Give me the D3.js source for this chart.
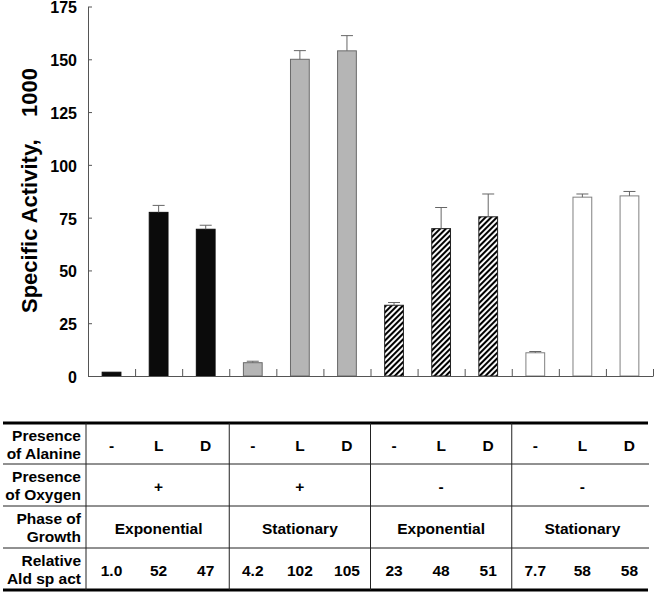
<!DOCTYPE html>
<html>
<head>
<meta charset="utf-8">
<script src="https://cdn.jsdelivr.net/npm/d3@7"></script>
<style>
  html, body { margin: 0; padding: 0; background: #fff; }
  svg { display: block; font-family: "Liberation Sans", Arial, Helvetica, sans-serif; font-weight: bold; }
</style>
</head>
<body>
<svg id="chart" width="656" height="594"></svg>
<script>
// ---- data ----
const categories = ["1","2","3","4","5","6","7","8","9","10","11","12"];
const groupOfBar = [0,0,0,1,1,1,2,2,2,3,3,3];
const activity = [1.8, 77.5, 69.5, 6.3, 150, 154, 33.5, 69.8, 75.4, 11, 84.7, 85.3];
const errorUp = [0, 3.3, 1.9, 0.7, 4.1, 7.2, 1.3, 10, 10.8, 0.6, 1.5, 2.1];
const yTicks = [0, 25, 50, 75, 100, 125, 150, 175];

const alanine = ["-","L","D","-","L","D","-","L","D","-","L","D"];
const oxygen = ["+","+","-","-"];
const phase = ["Exponential","Stationary","Exponential","Stationary"];
const relAct = ["1.0","52","47","4.2","102","105","23","48","51","7.7","58","58"];
const rowLabels = [["Presence","of Alanine"],["Presence","of Oxygen"],["Phase of","Growth"],["Relative","Ald sp act"]];

// ---- layout ----
const svg = d3.select("#chart");
const axisColor = "#555";
const x0 = 88, x1 = 653, yBase = 376, yTop = 6.5;

const x = d3.scaleBand().domain(categories).range([x0, x1]).paddingInner(0.58).paddingOuter(0.29);
const xb = d3.scaleLinear().domain([0, categories.length]).range([x0, x1]);
const y = d3.scaleLinear().domain([0, 175]).range([yBase, yTop]);

// hatch pattern
const defs = svg.append("defs");
const pat = defs.append("pattern").attr("id", "hatch").attr("patternUnits", "userSpaceOnUse")
  .attr("width", 4).attr("height", 4).attr("patternTransform", "rotate(45)");
pat.append("rect").attr("width", 4).attr("height", 4).attr("fill", "#fff");
pat.append("line").attr("x1", 1).attr("y1", 0).attr("x2", 1).attr("y2", 4)
  .attr("stroke", "#000").attr("stroke-width", 2.1);

const groupStyles = [
  { fill: "#0b0b0b", stroke: "#0b0b0b" },
  { fill: "#b5b5b5", stroke: "#6a6a6a" },
  { fill: "url(#hatch)", stroke: "#222" },
  { fill: "#ffffff", stroke: "#808080" }
];

// bars
svg.append("g").selectAll("rect").data(categories).join("rect")
  .attr("x", d => x(d) + 0.5)
  .attr("y", (d, i) => y(activity[i]))
  .attr("width", x.bandwidth() - 1)
  .attr("height", (d, i) => yBase - y(activity[i]))
  .attr("fill", (d, i) => groupStyles[groupOfBar[i]].fill)
  .attr("stroke", (d, i) => groupStyles[groupOfBar[i]].stroke)
  .attr("stroke-width", 1);

// error bars
const eb = svg.append("g").attr("stroke", "#666").attr("stroke-width", 1).attr("fill", "none");
categories.forEach((c, i) => {
  if (!errorUp[i]) return;
  const cx = x(c) + x.bandwidth() / 2;
  const yt = y(activity[i] + errorUp[i]);
  eb.append("line").attr("x1", cx).attr("x2", cx).attr("y1", y(activity[i])).attr("y2", yt);
  eb.append("line").attr("x1", cx - 6).attr("x2", cx + 6).attr("y1", yt).attr("y2", yt);
});

// y axis
const yAxis = svg.append("g").attr("transform", `translate(${x0},0)`)
  .call(d3.axisLeft(y).tickValues(yTicks).tickSize(-4).tickSizeOuter(0).tickPadding(11));
yAxis.select(".domain").attr("stroke", axisColor);
yAxis.selectAll(".tick line").attr("stroke", axisColor);
yAxis.selectAll(".tick text").attr("fill", "#000").attr("dy", "0.4em").style("font-size", "16px")
  .style("font-family", "'Liberation Sans', Arial, sans-serif").style("font-weight", "bold");

// x axis (boundary ticks, no labels)
const xAxis = svg.append("g").attr("transform", `translate(0,${yBase})`)
  .call(d3.axisBottom(xb).tickValues(d3.range(1, categories.length + 1)).tickSize(-7).tickSizeOuter(0).tickFormat(""));
xAxis.select(".domain").attr("stroke", axisColor);
xAxis.selectAll(".tick line").attr("stroke", axisColor);

// y title
svg.append("text").attr("transform", "translate(37,313) rotate(-90)")
  .attr("text-anchor", "start").style("font-size", "22px").attr("fill", "#000")
  .text("Specific Activity,");
svg.append("text").attr("transform", "translate(37,68) rotate(-90)")
  .attr("text-anchor", "end").style("font-size", "22px").attr("fill", "#000")
  .text("1000");

// ---- table ----
const tLeft = 3, tRight = 648, labelDiv = 86;
const rowTops = [423, 464, 506, 548, 590];
const tbl = svg.append("g");
// thick top/bottom
[rowTops[0], rowTops[4]].forEach(ry => {
  tbl.append("line").attr("x1", tLeft).attr("x2", tRight).attr("y1", ry).attr("y2", ry)
    .attr("stroke", "#000").attr("stroke-width", 3);
});
// thin row lines
rowTops.slice(1, 4).forEach(ry => {
  tbl.append("line").attr("x1", tLeft).attr("x2", tRight + 1).attr("y1", ry).attr("y2", ry)
    .attr("stroke", "#222").attr("stroke-width", 1);
});
// vertical dividers
[labelDiv, xb(3), xb(6), xb(9)].forEach(vx => {
  tbl.append("line").attr("x1", vx).attr("x2", vx).attr("y1", rowTops[0]).attr("y2", rowTops[4])
    .attr("stroke", "#222").attr("stroke-width", 1);
});
// row labels
const fs = "15.5px";
rowLabels.forEach((lines, r) => {
  lines.forEach((t, k) => {
    tbl.append("text").attr("x", 81).attr("y", rowTops[r] + 17.5 + k * 18)
      .attr("text-anchor", "end").style("font-size", fs).attr("fill", "#000").text(t);
  });
});
const mid = r => (rowTops[r] + rowTops[r + 1]) / 2 + 7;
// alanine row and relative activity row
categories.forEach((c, i) => {
  tbl.append("text").attr("x", x(c) + x.bandwidth() / 2).attr("y", mid(0))
    .attr("text-anchor", "middle").style("font-size", fs).attr("fill", "#000").text(alanine[i]);
  tbl.append("text").attr("x", x(c) + x.bandwidth() / 2).attr("y", mid(3))
    .attr("text-anchor", "middle").style("font-size", fs).attr("fill", "#000").text(relAct[i]);
});
oxygen.forEach((t, g) => {
  tbl.append("text").attr("x", xb(g * 3 + 1.5)).attr("y", mid(1))
    .attr("text-anchor", "middle").style("font-size", fs).attr("fill", "#000").text(t);
});
phase.forEach((t, g) => {
  tbl.append("text").attr("x", xb(g * 3 + 1.5)).attr("y", mid(2))
    .attr("text-anchor", "middle").style("font-size", fs).attr("fill", "#000").text(t);
});
</script>
</body>
</html>
